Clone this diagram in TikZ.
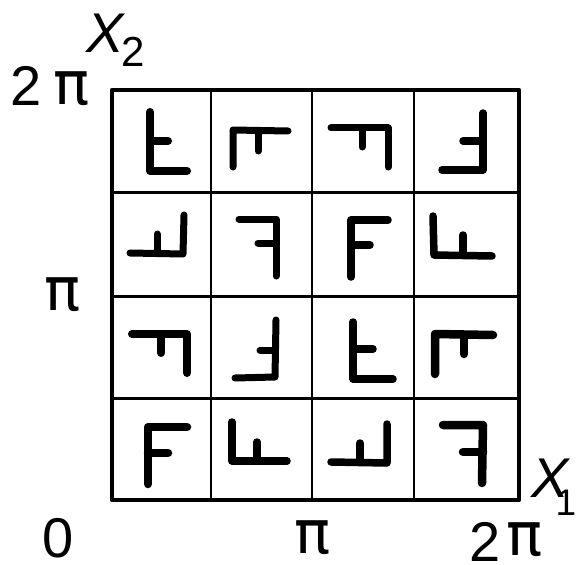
\documentclass[tikz,border=0pt]{standalone}
\usepackage{fontspec}
\setmainfont{Liberation Sans}
\newfontfamily\piface{DejaVu Sans}
\newcommand{\bigtxt}{\fontsize{56}{60}\selectfont}
\newcommand{\subtxt}{\fontsize{42}{46}\selectfont}
\newcommand{\smalltxt}{\fontsize{37}{40}\selectfont}
\newcommand{\pisym}{{\piface\fontsize{60}{64}\selectfont π}}
% stroke width; three points of the long L; the two ends of the short bar
\newcommand{\glyph}[6]{%
  \draw[glyphstroke,line width=#1pt] #2 -- #3 -- #4;
  \draw[glyphstroke,line width=#1pt] #5 -- #6;}
\tikzset{
  glyphstroke/.style={line cap=round,line join=round,black},
  outerframe/.style={line width=4.5pt,line join=round,black},
  innerH/.style={line width=3pt,black},
  innerV/.style={line width=2.4pt,black},
  lab/.style={inner sep=0pt,outer sep=0pt,anchor=center,black,font=\bigtxt},
  sublab/.style={inner sep=0pt,outer sep=0pt,anchor=center,black,font=\subtxt},
  sublabsmall/.style={inner sep=0pt,outer sep=0pt,anchor=center,black,font=\smalltxt},
}
\begin{document}
\begin{tikzpicture}[x=1pt,y=-1pt]
\useasboundingbox (0,0) rectangle (577,564);
\fill[white] (0,0) rectangle (577,564);
% grid
\draw[innerV] (211,90) -- (211,500);
\draw[innerV] (312,90) -- (312,500);
\draw[innerV] (414,90) -- (414,500);
\draw[innerH] (112,192) -- (519,192);
\draw[innerH] (112,296) -- (519,296);
\draw[innerH] (112,398) -- (519,398);
\draw[outerframe] (112,90) rectangle (519,500);
% row 1
\glyph{8}{(150,112)}{(150,171)}{(187,171)}{(150,141)}{(168,141)}
\glyph{7}{(233,167)}{(233,130)}{(288,131)}{(258,131)}{(258,151)}
\glyph{7}{(331,128)}{(388,128)}{(388,167)}{(362,128)}{(362,147)}
\glyph{7.5}{(483,113)}{(483,170)}{(442,170)}{(483,141)}{(463,141)}
% row 2
\glyph{7}{(184,215)}{(183,254)}{(130,253)}{(157,253)}{(157,234)}
\glyph{7}{(239,219)}{(276,219)}{(276,276)}{(276,243)}{(258,243)}
\glyph{7.5}{(388,220)}{(351,220)}{(351,277)}{(351,245)}{(370,245)}
\glyph{7.5}{(433,216)}{(434,255)}{(492,256)}{(463,255)}{(463,235)}
% row 3
\glyph{8}{(132,334)}{(187,334)}{(187,373)}{(161,334)}{(161,353)}
\glyph{7}{(276,320)}{(275,377)}{(235,378)}{(275,350)}{(260,350)}
\glyph{7.5}{(353,322)}{(353,379)}{(393,379)}{(353,349)}{(373,349)}
\glyph{8.5}{(435,374)}{(435,334)}{(493,335)}{(464,335)}{(464,354)}
% row 4
\glyph{8.5}{(187,427)}{(148,427)}{(148,484)}{(148,453)}{(168,453)}
\glyph{7.5}{(232,422)}{(232,461)}{(287,461)}{(257,461)}{(257,442)}
\glyph{7.5}{(387,424)}{(387,463)}{(331,462)}{(360,462)}{(360,443)}
\glyph{8.5}{(443,425)}{(483,425)}{(482,483)}{(483,452)}{(463,452)}
% labels
\node[lab] (xtwo) at (105,33) {\itshape X};
\node[sublab] (xtwosub) at (133,52) {2};
\node[lab] (twotop) at (26,86) {2};
\node[lab] (pitop) at (72,89) {\pisym};
\node[lab] (pileft) at (63,295) {\pisym};
\node[lab] (zero) at (58,538) {0};
\node[lab] (pimid) at (313,538) {\pisym};
\node[lab] (twobot) at (485,542) {2};
\node[lab] (pibot) at (525,540) {\pisym};
\node[lab] (xone) at (550,478) {\itshape X};
\node[sublabsmall] (xonesub) at (566,503) {1};
\end{tikzpicture}
\end{document}
